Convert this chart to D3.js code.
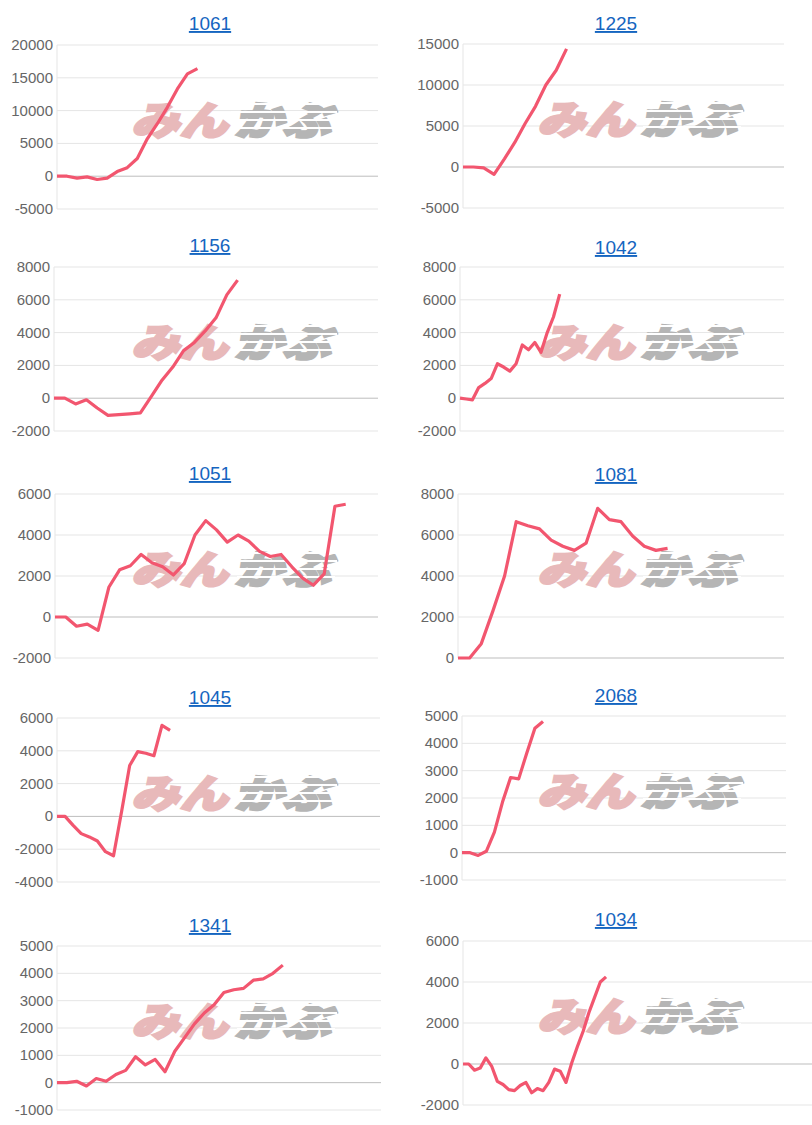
<!DOCTYPE html>
<html>
<head>
<meta charset="utf-8">
<script src="https://cdn.jsdelivr.net/npm/d3@7"></script>
<style>
  body { margin: 0; background: #fff; }
  svg { display: block; }
</style>
</head>
<body>
<svg id="chart" width="812" height="1125"></svg>
<script>
// codes shown as titles
const codes = ["1061", "1225", "1156", "1042", "1051", "1081", "1045", "2068", "1341", "1034"];

// y axis ticks per chart
const ticks1061 = [-5000, 0, 5000, 10000, 15000, 20000];
const ticks1225 = [-5000, 0, 5000, 10000, 15000];
const ticks1156 = [-2000, 0, 2000, 4000, 6000, 8000];
const ticks1042 = [-2000, 0, 2000, 4000, 6000, 8000];
const ticks1051 = [-2000, 0, 2000, 4000, 6000];
const ticks1081 = [0, 2000, 4000, 6000, 8000];
const ticks1045 = [-4000, -2000, 0, 2000, 4000, 6000];
const ticks2068 = [-1000, 0, 1000, 2000, 3000, 4000, 5000];
const ticks1341 = [-1000, 0, 1000, 2000, 3000, 4000, 5000];
const ticks1034 = [-2000, 0, 2000, 4000, 6000];

// number of x slots each chart has
const slots = [32, 31, 30, 52, 30, 28, 40, 40, 33, 61];

// cumulative series (one value per slot)
const s1061 = [0, 0, -300, -100, -500, -300, 700, 1300, 2700, 5700, 8000, 10500, 13300, 15600, 16400];
const s1225 = [0, 0, -100, -900, 1000, 3000, 5300, 7400, 10000, 11800, 14400];
const s1156 = [0, 0, -350, -100, -600, -1050, -1000, -950, -900, 100, 1100, 1900, 2900, 3400, 4100, 4900, 6300, 7200];
const s1042 = [0, -50, -100, 650, 900, 1200, 2100, 1900, 1650, 2100, 3250, 2950, 3400, 2800, 4000, 4950, 6350];
const s1051 = [0, 0, -450, -350, -650, 1450, 2300, 2500, 3050, 2650, 2450, 2050, 2600, 4000, 4700, 4250, 3650, 4000, 3700, 3200, 2950, 3050, 2450, 1900, 1550, 2100, 5400, 5500];
const s1081 = [0, 0, 700, 2300, 4000, 6650, 6450, 6300, 5750, 5450, 5250, 5600, 7300, 6750, 6650, 5950, 5450, 5250, 5350];
const s1045 = [0, 0, -550, -1050, -1250, -1500, -2150, -2400, 300, 3100, 3950, 3850, 3700, 5550, 5250];
const s2068 = [0, 0, -100, 50, 750, 1850, 2750, 2700, 3650, 4550, 4800];
const s1341 = [0, 0, 50, -120, 150, 50, 300, 450, 950, 650, 850, 400, 1150, 1650, 2150, 2550, 2850, 3300, 3400, 3450, 3750, 3800, 4000, 4300];
const s1034 = [0, 0, -300, -200, 300, -100, -850, -1000, -1250, -1300, -1050, -900, -1400, -1200, -1300, -900, -250, -350, -900, 50, 850, 1600, 2500, 3250, 4000, 4250];

const allTicks = [ticks1061, ticks1225, ticks1156, ticks1042, ticks1051, ticks1081, ticks1045, ticks2068, ticks1341, ticks1034];
const allSeries = [s1061, s1225, s1156, s1042, s1051, s1081, s1045, s2068, s1341, s1034];

// layout of each panel: left of plot, right of plot, top grid, title y
const layout = [
	{ x0: 0,   left: 57,  right: 378, top: 45,  titleY: 23 },
	{ x0: 406, left: 463, right: 784, top: 44,  titleY: 23 },
	{ x0: 0,   left: 54,  right: 378, top: 267, titleY: 245 },
	{ x0: 406, left: 460, right: 784, top: 267, titleY: 247 },
	{ x0: 0,   left: 55,  right: 378, top: 494, titleY: 473 },
	{ x0: 406, left: 458, right: 784, top: 494, titleY: 474 },
	{ x0: 0,   left: 57,  right: 380, top: 718, titleY: 697 },
	{ x0: 406, left: 462, right: 786, top: 716, titleY: 695 },
	{ x0: 0,   left: 57,  right: 381, top: 946, titleY: 925 },
	{ x0: 406, left: 463, right: 812, top: 941, titleY: 919 }
];
const plotH = 164;

const svg = d3.select("#chart");

codes.forEach(function(code, i) {
	const L = layout[i];
	const t = allTicks[i];
	const g = svg.append("g");

	const x = d3.scaleLinear().domain([0, slots[i]]).range([L.left, L.right]);
	const y = d3.scaleLinear().domain([d3.min(t), d3.max(t)]).range([L.top + plotH, L.top]);

	// grid
	g.selectAll(".grid").data(t).enter().append("line")
		.attr("x1", L.left).attr("x2", L.right)
		.attr("y1", d => y(d)).attr("y2", d => y(d))
		.attr("stroke", d => d == 0 ? "#bdbdbd" : "#e5e5e5")
		.attr("stroke-width", 1);
	g.append("line")
		.attr("x1", L.left).attr("x2", L.left)
		.attr("y1", L.top).attr("y2", L.top + plotH)
		.attr("stroke", "#e5e5e5");

	// tick labels
	g.selectAll(".tick").data(t).enter().append("text")
		.attr("x", L.left - 4)
		.attr("y", d => y(d) + 5)
		.attr("text-anchor", "end")
		.attr("font-family", "Liberation Sans, Arial, sans-serif")
		.attr("font-size", 15)
		.attr("fill", "#666")
		.text(d => d);

	// watermark
	const wm = g.append("g")
		.attr("transform", "translate(" + (L.x0 + 132) + "," + (L.top + 88) + ")");
	wm.append("text")
		.attr("font-family", "Noto Sans CJK JP, sans-serif")
		.attr("font-weight", "900")
		.attr("font-size", 46)
		.attr("transform", "skewX(-14) scale(1.05,0.85)")
		.attr("fill", "#e8b9ba")
		.attr("stroke", "#e8b9ba")
		.attr("stroke-width", 3)
		.attr("y", 2)
		.text("みん");
	wm.append("text")
		.attr("x", 98)
		.attr("font-family", "Noto Sans CJK JP, sans-serif")
		.attr("font-weight", "900")
		.attr("font-size", 46)
		.attr("transform", "skewX(-14) scale(1.05,0.85)")
		.attr("fill", "#b5b5b5")
		.attr("stroke", "#b5b5b5")
		.attr("stroke-width", 3)
		.attr("y", 2)
		.text("かぶ");
	[-30, -22, -14, -6].forEach(function(dy, k) {
		wm.append("rect")
			.attr("x", 96 + k * 3).attr("y", dy)
			.attr("width", 110 - k * 4).attr("height", 2)
			.attr("fill", "#fff");
	});

	// line
	const line = d3.line().x((d, j) => x(j)).y(d => y(d));
	g.append("path")
		.datum(allSeries[i])
		.attr("d", line)
		.attr("fill", "none")
		.attr("stroke", "#f2566f")
		.attr("stroke-width", 3.2)
		.attr("stroke-linejoin", "round");

	// title
	const tx = L.x0 + 210;
	g.append("text")
		.attr("x", tx)
		.attr("y", L.titleY + 7)
		.attr("text-anchor", "middle")
		.attr("font-family", "Liberation Sans, Arial, sans-serif")
		.attr("font-size", 19)
		.attr("fill", "#1565c0")
		.attr("text-decoration", "underline")
		.text(code);
});
</script>
</body>
</html>
